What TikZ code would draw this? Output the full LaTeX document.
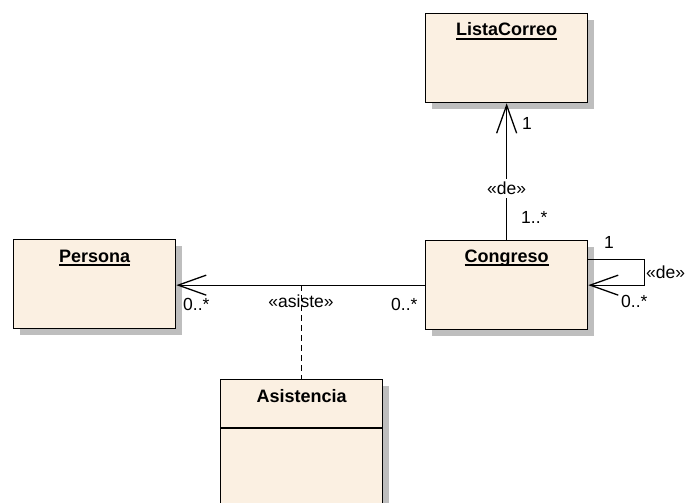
\documentclass[tikz,border=0pt]{standalone}
\usepackage{fontspec}
\setmainfont{Liberation Sans}
\usetikzlibrary{arrows.meta,shadows,calc}

\definecolor{classfill}{RGB}{251,240,226}
\definecolor{shadowgray}{RGB}{190,190,190}

% underlined class name
\newcommand\ulbox[1]{\setbox0\hbox{#1}\rlap{\vrule height -2.4pt depth 3.7pt width \wd0}\box0}

\tikzset{
  classbox/.style={draw=black, line width=1.3pt, fill=classfill, rectangle,
    anchor=north west, inner sep=0pt, minimum width=162pt, minimum height=89pt,
    drop shadow={shadow xshift=6.5pt, shadow yshift=-6pt, fill=shadowgray, opacity=1}},
  classname/.style={font=\fontsize{18}{20}\selectfont\bfseries, inner sep=0pt, anchor=base},
  lbl/.style={font=\fontsize{17.5}{20}\selectfont, inner sep=0pt, anchor=base west},
  lblc/.style={font=\fontsize{17.5}{20}\selectfont, inner sep=0pt, anchor=base},
  assoc/.style={line width=1.3pt, -{Straight Barb[length=28pt, width=20pt, line width=1.3pt]}},
  link/.style={line width=1.3pt},
  assocclass/.style={line width=1.3pt, dash pattern=on 6pt off 4pt},
}

\begin{document}
\begin{tikzpicture}[x=1pt, y=-1pt]
  \useasboundingbox (0,0) rectangle (689,503);
  \clip (0,0) rectangle (689,503);

  % classes
  \node[classbox] (lista) at (425,13) {};
  \node[classname] (listaname) at ($(lista.north)+(0,23)$) {\ulbox{ListaCorreo}};

  \node[classbox] (congreso) at (425,240) {};
  \node[classname] (congresoname) at ($(congreso.north)+(0,22)$) {\ulbox{Congreso}};

  \node[classbox] (persona) at (13,239) {};
  \node[classname] (personaname) at ($(persona.north)+(0,23)$) {\ulbox{Persona}};

  \node[classbox, minimum height=150pt] (asistencia) at (220,379) {};
  \node[classname] (asistencianame) at ($(asistencia.north)+(0,23)$) {Asistencia};
  \draw[link] ($(asistencia.north west)+(0,49)$) coordinate (sepl) -- (sepl -| asistencia.east);

  % Congreso -> ListaCorreo
  \draw[assoc] (congreso.north) -- node[lblc, fill=white, inner ysep=3pt, pos=0.33] (delista) {«de»} (lista.south);
  \node[lbl] (m1) at (522,129) {1};
  \node[lbl] (m2) at (521,223) {1..*};

  % Congreso -> Persona
  \draw[assoc] (congreso.west) -- (congreso.west -| persona.east);
  \node[lbl] (m3) at (183,310) {0..*};
  \node[lbl] (m4) at (391,310) {0..*};
  \node[lblc] (asiste) at (301,307) {«asiste»};

  % association class link
  \coordinate (mid) at (asistencia.north |- congreso.west);
  \draw[assocclass] (mid) -- (asistencia.north);

  % self association
  \draw[assoc] ($(congreso.east)+(0,-26)$) -- ++(56,0) |- (congreso.east);
  \node[lbl] (m5) at (604,248) {1};
  \node[lbl] (selfde) at (646,278) {«de»};
  \node[lbl] (m6) at (621,307) {0..*};
\end{tikzpicture}
\end{document}
